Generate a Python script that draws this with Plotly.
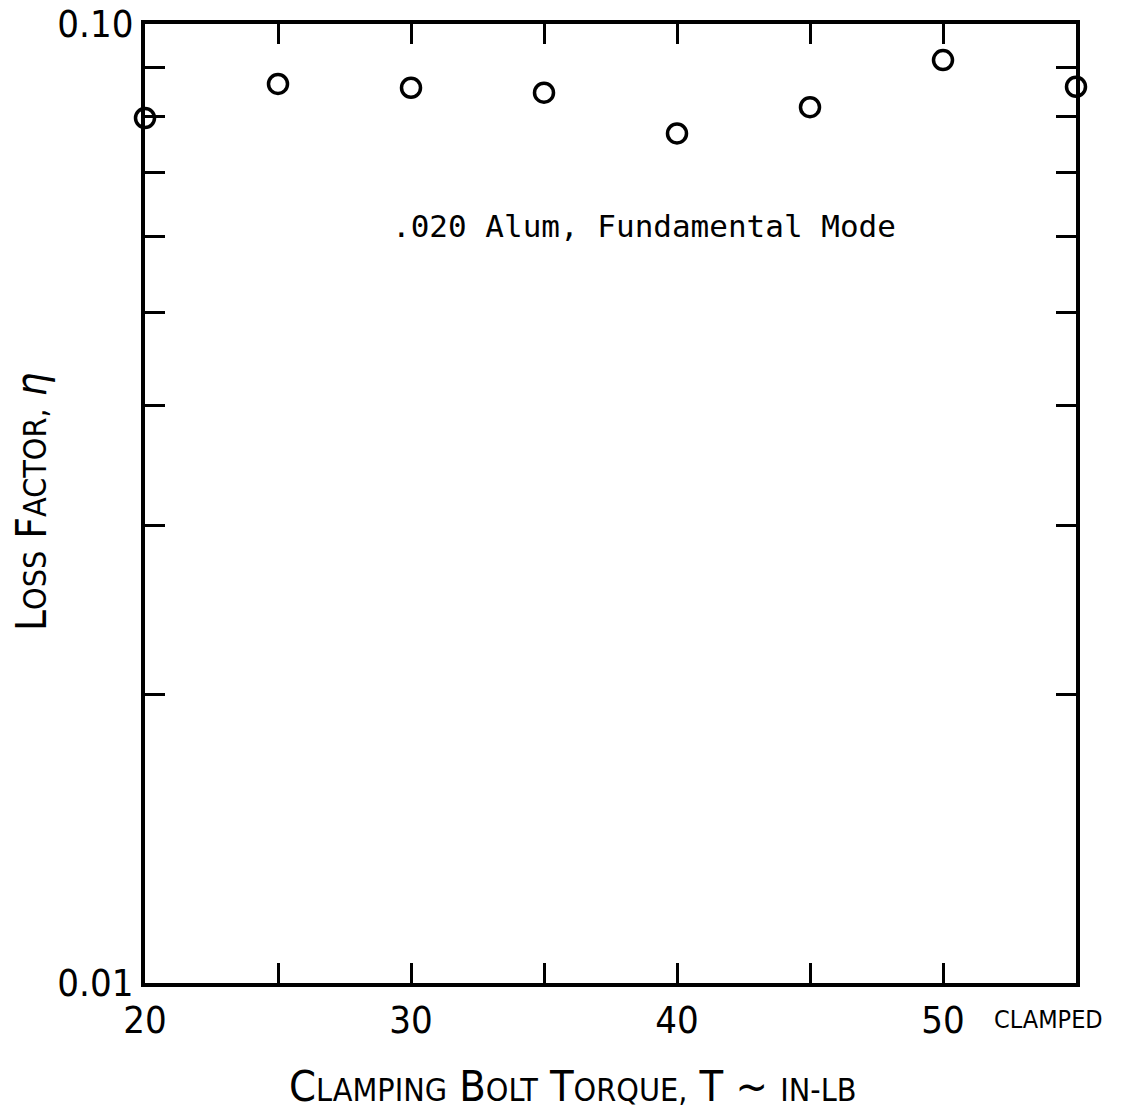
import plotly.graph_objects as go

# Bolt torque settings (in-lb); the last point is the fully clamped case
torque = [20, 25, 30, 35, 40, 45, 50, 55]
loss_factor = [0.0798, 0.0866, 0.0858, 0.0848, 0.0769, 0.0819, 0.0917, 0.0860]

x_tickvals = [20, 25, 30, 35, 40, 45, 50]
x_ticktext = ["20", "", "30", "", "40", "", "50"]
y_tickvals = [0.01, 0.02, 0.03, 0.04, 0.05, 0.06, 0.07, 0.08, 0.09, 0.10]
y_ticktext = ["0.01", "", "", "", "", "", "", "", "", "0.10"]

NARROW = "Liberation Sans Narrow, DejaVu Sans Condensed, Arial Narrow, sans-serif"
MONO = "DejaVu Sans Mono, Liberation Mono, monospace"

L, R, T, B = 145, 1076, 24, 983
W, H = 1133, 1112


def small_caps(text, small=32):
    """Render words in small caps: first letter large, rest smaller."""
    out = []
    for word in text.split(" "):
        if len(word) > 1 and word[0].isupper() and word[1:].rstrip(",").islower():
            out.append(word[0] + f"<span style='font-size:{small}px'>{word[1:].upper()}</span>")
        else:
            out.append(word)
    return " ".join(out)


def px_x(px):
    return (px - L) / (R - L)


def px_y(py):
    return (B - py) / (B - T)


fig = go.Figure()
fig.add_trace(go.Scatter(
    x=torque, y=loss_factor, mode="markers",
    marker=dict(symbol="circle-open", size=19, color="black",
                line=dict(width=3.5, color="black")),
    cliponaxis=False, showlegend=False,
))

axis_common = dict(
    showline=True, linewidth=4, linecolor="black", mirror="ticks",
    ticks="inside", tickwidth=3, tickcolor="black", ticklen=20,
    showgrid=False, zeroline=False, automargin=False,
    tickfont=dict(family=NARROW, size=38, color="black"),
)

fig.update_xaxes(
    range=[20, 55], tickmode="array", tickvals=x_tickvals, ticktext=x_ticktext,
    ticklabelstandoff=0,
    **axis_common,
)
fig.update_yaxes(
    type="log", range=[-2, -1], tickmode="array", tickvals=y_tickvals, ticktext=y_ticktext,
    ticklabelstandoff=0,
    **axis_common,
)

# Axis titles
fig.add_annotation(
    text=small_caps("Clamping Bolt Torque,") + " T ~ <span style='font-size:32px'>IN-LB</span>",
    xref="paper", yref="paper", x=px_x(572), y=px_y(1086),
    xanchor="center", yanchor="middle", showarrow=False,
    font=dict(family=NARROW, size=43, color="black"),
)
fig.add_annotation(
    text=small_caps("Loss Factor,") + " <i>η</i>",
    xref="paper", yref="paper", x=px_x(32), y=px_y(502),
    xanchor="center", yanchor="middle", showarrow=False, textangle=-90,
    font=dict(family=NARROW, size=42, color="black"),
)

fig.add_annotation(
    text="CLAMPED", xref="paper", yref="paper", x=px_x(1048), y=px_y(1019),
    xanchor="center", yanchor="middle", showarrow=False,
    font=dict(family=NARROW, size=25, color="black"),
)
fig.add_annotation(
    text=".020 Alum, Fundamental Mode", xref="paper", yref="paper",
    x=px_x(390), y=px_y(226), xanchor="left", yanchor="middle",
    showarrow=False, font=dict(family=MONO, size=31, color="black"),
)

fig.update_layout(
    width=W, height=H,
    margin=dict(l=L, r=W - R, t=T, b=H - B),
    paper_bgcolor="white", plot_bgcolor="white",
)

fig.write_html("out.html")
